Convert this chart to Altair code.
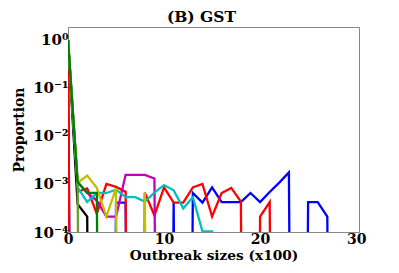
import altair as alt
import pandas as pd

Z = 1e-30  # zero proportion (drawn as a drop off the log axis)

blue_vals = [0.99, Z, Z, Z, Z, 4.1e-4, 4.1e-4, Z, Z, Z, Z, 4.1e-4, Z, 6.5e-4, 4.1e-4,
             8.5e-4, 4.2e-4, 4.2e-4, 4.2e-4, 6.5e-4, 4.2e-4, 6.8e-4, 1.07e-3, 1.74e-3, Z,
             4.2e-4, 4.2e-4, 2.1e-4, Z]
red_vals = [0.99, 6.9e-4, 8.1e-4, 2.4e-4, 1.0e-3, 8.7e-4, 6.9e-4, Z, 6.6e-4, 2.2e-4,
            8.5e-4, 4.1e-4, 4.1e-4, 8.5e-4, 1.0e-3, 2.1e-4, 6.5e-4, 8.3e-4, 4.3e-4, Z,
            2.1e-4, 4.2e-4, Z]
red0_vals = [0.99, Z]
black_vals = [0.99, 3.8e-4, 2.1e-4, Z]
magenta_vals = [0.99, 1.1e-3, 6.5e-4, 4.5e-4, 2.1e-4, 2.1e-4, 1.55e-3, 1.55e-3, 1.55e-3,
                1.3e-3, Z]
cyan_vals = [0.99, 8.5e-4, 4.2e-4, 6.5e-4, 6.5e-4, 7.6e-4, 5.3e-4, 5.3e-4, 4.3e-4, 6.6e-4,
             9.5e-4, 7.4e-4, 3.1e-4, 5.3e-4, 1.03e-4, 1.03e-4, Z]
yellow_vals = [0.99, 1.05e-3, 1.5e-3, 8.3e-4, 2.1e-4, 8.1e-4, Z, Z, 6.5e-4, Z]
olive_vals = [0.99, 1.1e-3, Z]
green_vals = [0.99, 1.1e-3, 6.5e-4, 6.5e-4, Z]

series = [
    ("blue", blue_vals, "#0000ff"),
    ("red", red_vals, "#ff0000"),
    ("red0", red0_vals, "#ff0000"),
    ("black", black_vals, "#000000"),
    ("magenta", magenta_vals, "#bf00bf"),
    ("cyan", cyan_vals, "#00bfbf"),
    ("yellow", yellow_vals, "#bfbf00"),
    ("olive", olive_vals, "#6b9e2e"),
    ("green", green_vals, "#008000"),
]

FONT = "DejaVu Serif"

x_enc = alt.X("size:Q",
              scale=alt.Scale(domain=[0, 30.3], nice=False, zero=False),
              axis=alt.Axis(values=[0, 10, 20, 30], format="d", title="Outbreak sizes (x100)",
                            ticks=False, tickSize=0, domain=False, grid=False, labelFont=FONT,
                            labelFontWeight="bold", labelFontSize=14, labelColor="#000",
                            labelPadding=0, titleFont=FONT, titleFontWeight="bold",
                            titleFontSize=13.7, titleColor="#000", titlePadding=2,
                            labelFlush=False))

ylab = ("datum.value >= 0.5 ? '10⁰' : datum.value >= 0.05 ? '10⁻¹' : "
        "datum.value >= 0.005 ? '10⁻²' : datum.value >= 0.0005 ? '10⁻³' : '10⁻⁴'")

y_enc = alt.Y("prop:Q",
              scale=alt.Scale(type="log", domain=[1e-4, 1.86], nice=False),
              axis=alt.Axis(values=[1, 0.1, 0.01, 0.001, 0.0001], labelExpr=ylab,
                            title="Proportion", ticks=False, tickSize=0, domain=False,
                            grid=False, labelFont=FONT, labelFontWeight="bold",
                            labelFontSize=15, labelColor="#000", labelPadding=0,
                            titleFont=FONT, titleFontWeight="bold", titleFontSize=14,
                            titleColor="#000", titlePadding=6))

layers = []
for name, vals, col in series:
    df = pd.DataFrame({"size": list(range(len(vals))), "prop": vals})
    layers.append(
        alt.Chart(df).mark_line(clip=True, strokeWidth=2.3, color=col).encode(
            x=x_enc, y=y_enc)
    )

chart = alt.layer(*layers).properties(
    width=291, height=205,
    title=alt.TitleParams("(B) GST", font=FONT, fontWeight="bold", fontSize=15.5,
                          color="#000", offset=2, dx=-12),
    autosize="none",
    padding={"left": 60, "top": 19, "right": 32, "bottom": 33},
).configure_view(stroke="#888888", strokeWidth=1)

chart.save("out.html", embed_options={"renderer": "svg", "actions": False})
